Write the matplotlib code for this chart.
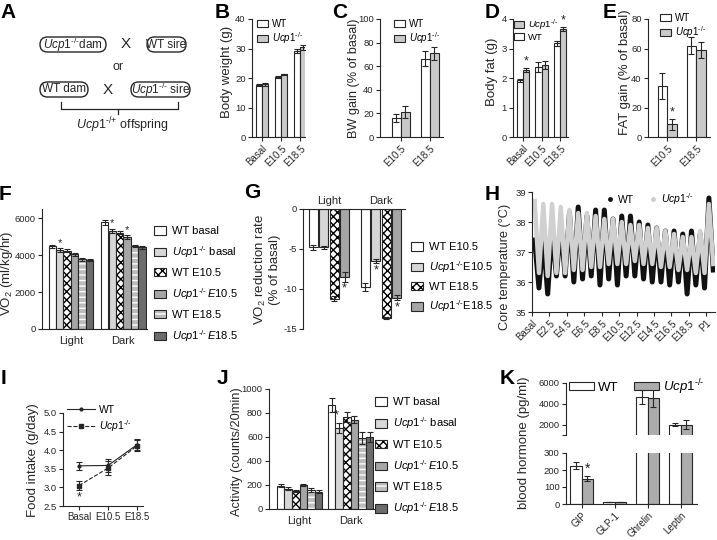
import numpy as np
import matplotlib
matplotlib.use("Agg")
import matplotlib.pyplot as plt
from matplotlib.patches import Patch, FancyBboxPatch
from matplotlib.lines import Line2D

plt.rcParams["font.family"] = ["Liberation Sans", "DejaVu Sans"]
plt.rcParams["mathtext.fontset"] = "custom"
plt.rcParams["mathtext.rm"] = "Liberation Sans"
plt.rcParams["mathtext.it"] = "Liberation Sans:italic"
plt.rcParams["axes.unicode_minus"] = False
plt.rcParams["hatch.linewidth"] = 1.0

W, H = 717, 540
INK = "#262626"
KO = r"$\mathit{Ucp1}^{\text{-/-}}$"

# ---- B: body weight
bw_groups = ["Basal", "E10.5", "E18.5"]
bw_wt = [17.6, 20.4, 29.2]
bw_wt_err = [0.3, 0.3, 0.8]
bw_ko = [17.8, 21.2, 30.4]
bw_ko_err = [0.4, 0.3, 0.8]

# ---- C: BW gain
gain_groups = ["E10.5", "E18.5"]
bwg_wt = [16.0, 66.5]
bwg_wt_err = [3.5, 6.0]
bwg_ko = [21.0, 71.0]
bwg_ko_err = [5.0, 5.5]

# ---- D: body fat
fat_wt = [1.93, 2.38, 3.17]
fat_wt_err = [0.05, 0.16, 0.08]
fat_ko = [2.28, 2.44, 3.65]
fat_ko_err = [0.07, 0.14, 0.07]

# ---- E: fat gain
fatg_wt = [34.5, 62.0]
fatg_wt_err = [9.0, 5.5]
fatg_ko = [8.5, 59.0]
fatg_ko_err = [3.5, 5.5]

# ---- F: VO2 (light, dark) for six groups
phase = ["Light", "Dark"]
six_labels = ["WT basal", KO + " basal", "WT E10.5",
              KO + r"$\,\mathit{E10.5}$", "WT E18.5", KO + r"$\,\mathit{E18.5}$"]
vo2 = [[4480, 5780], [4280, 5330], [4250, 5220], [4060, 4980], [3780, 4500], [3720, 4420]]
vo2_err = [[80, 150], [90, 110], [80, 100], [80, 90], [70, 70], [60, 60]]

# ---- G: VO2 reduction
four_labels = ["WT E10.5", KO + "E10.5", "WT E18.5", KO + "E18.5"]
vo2_red = [[-4.8, -9.8], [-4.8, -6.5], [-11.2, -13.6], [-8.5, -11.1]]
vo2_red_err = [[0.3, 0.5], [0.2, 0.3], [0.3, 0.1], [0.6, 0.3]]

# ---- H: core temperature, daily peak / trough per genotype
h_ticks = ["Basal", "E2.5", "E4.5", "E6.5", "E8.5", "E10.5", "E12.5",
           "E14.5", "E16.5", "E18.5", "P1"]
wt_high = [37.4, 37.5, 37.8, 37.9, 38.3, 38.5, 38.2, 38.4, 38.4, 38.1, 38.2,
           38.2, 38.0, 37.9, 37.8, 37.7, 37.7, 37.6, 37.7, 37.6, 38.8]
wt_low = [35.8, 35.6, 36.2, 36.2, 36.0, 36.1, 36.2, 35.9, 36.1, 35.9, 36.2,
          36.2, 36.1, 36.0, 36.0, 35.9, 36.0, 35.6, 35.9, 35.8, 36.4]
ko_high = [38.7, 38.6, 38.6, 38.5, 38.4, 38.3, 38.3, 38.2, 38.1, 38.1, 38.0,
           37.9, 37.9, 37.8, 37.8, 37.7, 37.6, 37.5, 37.5, 37.7, 38.6]
ko_low = [36.3, 36.2, 36.3, 36.3, 36.4, 36.4, 36.5, 36.5, 36.6, 36.6, 36.6,
          36.7, 36.6, 36.6, 36.5, 36.5, 36.4, 36.4, 36.3, 36.3, 36.6]

# ---- I: food intake
food_wt = [3.58, 3.59, 4.15]
food_wt_err = [0.10, 0.18, 0.14]
food_ko = [3.05, 3.52, 4.12]
food_ko_err = [0.12, 0.18, 0.15]

# ---- J: activity
activity = [[195, 865], [170, 675], [150, 765], [200, 745], [160, 590], [145, 600]]
activity_err = [[12, 60], [15, 45], [10, 40], [10, 30], [15, 50], [12, 40]]

# ---- K: blood hormones
hormones = ["GIP", "GLP-1", "Ghrelin", "Leptin"]
horm_wt = [225, 12, 4650, 1980]
horm_wt_err = [20, 2, 700, 150]
horm_ko = [150, 12, 4600, 1980]
horm_ko_err = [12, 2, 900, 450]

SIX_STYLE = [
    dict(fc="white", hatch=None, hc=None),
    dict(fc="#d6d6d6", hatch=None, hc=None),
    dict(fc="white", hatch="xxxx", hc="black"),
    dict(fc="#a6a6a6", hatch=None, hc=None),
    dict(fc="#bcbcbc", hatch="---", hc="white"),
    dict(fc="#6c6c6c", hatch=None, hc=None),
]
ERR = dict(ecolor=INK, elinewidth=0.8, capsize=2, capthick=0.8)


def px_axes(fig, left, top, right, bottom):
    return fig.add_axes([left / W, 1 - bottom / H, (right - left) / W, (bottom - top) / H])


def fpt(x, y):
    return (x / W, 1 - y / H)


def ylab(fig, x, y, text, size=9.5, **kw):
    fig.text(*fpt(x, y), text, rotation=90, ha="center", va="center",
             fontsize=size, color=INK, **kw)


def style(ax, size=6.8):
    for s in ("top", "right"):
        ax.spines[s].set_visible(False)
    for s in ("left", "bottom", "top"):
        ax.spines[s].set_linewidth(0.8)
        ax.spines[s].set_color(INK)
    ax.tick_params(length=3, width=0.8, labelsize=size, colors=INK, pad=1.5)


def rotate(ax, size=7):
    for lab in ax.get_xticklabels():
        lab.set_rotation(45)
        lab.set_ha("right")
        lab.set_rotation_mode("anchor")
        lab.set_fontsize(size)


def styled_bar(ax, x, v, w, st, err):
    if st["hatch"]:
        ax.bar(x, v, w, color=st["fc"], edgecolor=st["hc"], hatch=st["hatch"], lw=0)
        ax.bar(x, v, w, fill=False, edgecolor=INK, lw=0.8, yerr=err, error_kw=ERR)
    else:
        ax.bar(x, v, w, color=st["fc"], edgecolor=INK, lw=0.8, yerr=err, error_kw=ERR)


def style_handle(st):
    if st["hatch"]:
        return (Patch(facecolor=st["fc"], edgecolor=st["hc"], hatch=st["hatch"], lw=0),
                Patch(fill=False, edgecolor=INK, lw=0.8))
    return Patch(facecolor=st["fc"], edgecolor=INK, lw=0.8)


def pair(ax, n, wt, wt_err, ko, ko_err, width, ko_color="#c9c9c9"):
    x = np.arange(n)
    ax.bar(x - width / 2, wt, width, color="white", edgecolor=INK, lw=0.8,
           yerr=wt_err, error_kw=ERR)
    ax.bar(x + width / 2, ko, width, color=ko_color, edgecolor=INK, lw=0.8,
           yerr=ko_err, error_kw=ERR)
    return x


def pair_legend(ax, anchor, order=("wt", "ko"), size=7, ko_color="#c9c9c9"):
    hs = {"wt": (Patch(facecolor="white", edgecolor=INK, lw=0.8), "WT"),
          "ko": (Patch(facecolor=ko_color, edgecolor=INK, lw=0.8), KO)}
    ax.legend([hs[k][0] for k in order], [hs[k][1] for k in order], loc="upper left",
              bbox_to_anchor=fpt(*anchor), bbox_transform=ax.figure.transFigure,
              frameon=False, fontsize=size, handlelength=1.1, handleheight=0.75,
              handletextpad=0.4, labelspacing=0.1, borderpad=0, borderaxespad=0)


def star(ax, x, y, va="bottom", size=9):
    ax.text(x, y, "*", ha="center", va=va, fontsize=size, color=INK)


fig = plt.figure(figsize=(W / 100, H / 100), dpi=100)

# ---------------- A: breeding scheme
axa = fig.add_axes([0, 1 - 140 / H, 205 / W, 140 / H])
axa.set_xlim(0, 205)
axa.set_ylim(140, 0)
axa.axis("off")
for (x0, x1, yc, txt) in [(33, 113, 44.5, KO + "dam"), (140, 193, 44.5, "WT sire"),
                          (33, 95, 89.5, "WT dam"), (124, 197, 89.5, KO + " sire")]:
    axa.add_patch(FancyBboxPatch((x0 + 7, yc - 7.5), x1 - x0 - 14, 15,
                                 boxstyle="round,pad=0,rounding_size=7.5",
                                 fc="white", ec=INK, lw=1.0, mutation_aspect=1))
    axa.text((x0 + x1) / 2, yc, txt, ha="center", va="center", fontsize=8.5, color=INK)
axa.text(126, 44.5, "X", ha="center", va="center", fontsize=11, color=INK)
axa.text(108, 89.5, "X", ha="center", va="center", fontsize=11, color=INK)
axa.text(118, 67, "or", ha="center", va="center", fontsize=9, color=INK)
axa.plot([61, 61, 178, 178], [102, 108.5, 108.5, 102], color=INK, lw=0.9)
axa.plot([118, 118], [108.5, 114], color=INK, lw=0.9)
axa.text(122, 125, r"$\mathit{Ucp1}^{\text{-/+}}$ offspring", ha="center", va="center",
         fontsize=9, color=INK)

# ---------------- B
axb = px_axes(fig, 252, 19, 305, 137)
style(axb)
x = pair(axb, 3, bw_wt, bw_wt_err, bw_ko, bw_ko_err, 0.32)
axb.set_xlim(-0.53, 2.25)
axb.set_ylim(0, 40)
axb.set_yticks([0, 10, 20, 30, 40])
axb.set_xticks(x, bw_groups)
rotate(axb)
ylab(fig, 227, 72, "Body weight (g)")
pair_legend(axb, (257, 19))

# ---------------- C
axc = px_axes(fig, 380, 19, 443, 137)
style(axc)
x = pair(axc, 2, bwg_wt, bwg_wt_err, bwg_ko, bwg_ko_err, 0.31)
axc.set_xlim(-0.72, 1.45)
axc.set_ylim(0, 100)
axc.set_yticks([0, 20, 40, 60, 80, 100])
axc.set_xticks(x, gain_groups)
rotate(axc)
ylab(fig, 354, 78, "BW gain (% of basal)", size=9.2)
pair_legend(axc, (394, 19))

# ---------------- D
axd = px_axes(fig, 513, 19, 568, 137)
style(axd)
x = pair(axd, 3, fat_wt, fat_wt_err, fat_ko, fat_ko_err, 0.33)
axd.set_xlim(-0.54, 2.43)
axd.set_ylim(0, 4)
axd.set_yticks([0, 1, 2, 3, 4])
axd.set_xticks(x, bw_groups)
rotate(axd)
ylab(fig, 492, 72, "Body fat (g)")
pair_legend(axd, (514, 17), order=("ko", "wt"), size=6.8)
for i in (0, 2):
    star(axd, x[i] + 0.165, fat_ko[i] + fat_ko_err[i] + 0.02)

# ---------------- E
axe = px_axes(fig, 648, 19, 710, 137)
style(axe)
x = pair(axe, 2, fatg_wt, fatg_wt_err, fatg_ko, fatg_ko_err, 0.34)
axe.set_xlim(-0.67, 1.47)
axe.set_ylim(0, 80)
axe.set_yticks([0, 20, 40, 60, 80])
axe.set_xticks(x, gain_groups)
rotate(axe)
ylab(fig, 625, 72, "FAT gain (% of basal)")
pair_legend(axe, (660, 13))
star(axe, x[0] + 0.17, fatg_ko[0] + fatg_ko_err[0] + 0.5)


def six_panel(ax, values, errs, width, step):
    xc = np.arange(len(phase))
    for k in range(6):
        v = [values[k][p] for p in range(len(phase))]
        e = [errs[k][p] for p in range(len(phase))]
        styled_bar(ax, xc + (k - 2.5) * step, v, width, SIX_STYLE[k], e)
    return xc


# ---------------- F
axf = px_axes(fig, 42, 209, 147, 329)
style(axf)
xc = six_panel(axf, vo2, vo2_err, 0.14, 0.142)
axf.set_xlim(-0.55, 1.45)
axf.set_ylim(0, 6500)
axf.set_yticks([0, 2000, 4000, 6000])
axf.set_xticks(xc, phase)
axf.tick_params(axis="x", length=0, labelsize=8, pad=5)
ylab(fig, 7, 273, "VO$_2$ (ml/kg/hr)")
for k, p in [(1, 0), (1, 1), (3, 1)]:
    star(axf, xc[p] + (k - 2.5) * 0.142, vo2[k][p] + vo2_err[k][p] + 20, size=8)
fig.legend([style_handle(s) for s in SIX_STYLE], six_labels, loc="upper left",
           bbox_to_anchor=fpt(154, 226), frameon=False, fontsize=8,
           handlelength=1.1, handleheight=0.8, handletextpad=0.5,
           labelspacing=0.72, borderpad=0, borderaxespad=0)

# ---------------- G
axg = px_axes(fig, 303, 209, 405, 329)
style(axg)
axg.spines["bottom"].set_visible(False)
axg.spines["top"].set_visible(True)
xg = np.arange(len(phase))
for k in range(4):
    styled_bar(axg, xg + (k - 1.5) * 0.2, vo2_red[k], 0.17, SIX_STYLE[k], vo2_red_err[k])
axg.set_xlim(-0.5, 1.46)
axg.set_ylim(-15, 0)
axg.set_yticks([-15, -10, -5, 0])
axg.xaxis.set_ticks_position("top")
axg.set_xticks(xg, phase)
axg.tick_params(axis="x", length=0, labelsize=8, pad=2)
ylab(fig, 267, 270, "VO$_2$ reduction rate\n(% of basal)", linespacing=1.05)
for k, p in [(3, 0), (1, 1), (3, 1)]:
    star(axg, xg[p] + (k - 1.5) * 0.2, vo2_red[k][p] - vo2_red_err[k][p] - 0.1,
         va="top", size=9)
fig.legend([style_handle(s) for s in SIX_STYLE[:4]], four_labels, loc="upper left",
           bbox_to_anchor=fpt(411, 242), frameon=False, fontsize=8,
           handlelength=1.1, handleheight=0.8, handletextpad=0.5,
           labelspacing=0.62, borderpad=0, borderaxespad=0)

# ---------------- H
axh = px_axes(fig, 532, 192, 715, 312)
style(axh)
n_days = len(wt_high)
t_day, y_wt, y_ko = [], [], []
for d in range(n_days):
    t_day += [d + 0.8, d + 1.3]
    y_wt += [wt_high[d], wt_low[d]]
    y_ko += [ko_high[d], ko_low[d]]
axh.plot(t_day, y_wt, color="#111111", lw=3.6)
axh.plot(t_day, y_ko, color="#d0d0d0", lw=3.2)
axh.set_xlim(0.5, 21.5)
axh.set_ylim(35, 39)
axh.set_yticks([35, 36, 37, 38, 39])
axh.set_xticks(np.arange(len(h_ticks)) * 2 + 0.5, h_ticks)
rotate(axh)
ylab(fig, 505, 267, "Core temperature (°C)", size=9.2)
axh.legend([Line2D([], [], ls="", marker="o", ms=2.5, color="#111111"),
            Line2D([], [], ls="", marker="o", ms=2.5, color="#cfcfcf")],
           ["WT", KO], loc="upper left", bbox_to_anchor=fpt(606, 191),
           bbox_transform=fig.transFigure, ncol=2, frameon=False, fontsize=7.5,
           handlelength=0.8, handletextpad=0.3, columnspacing=1.5,
           borderpad=0, borderaxespad=0)

# ---------------- I
axi = px_axes(fig, 63, 413, 143, 506)
style(axi)
xi = np.arange(len(bw_groups))
axi.errorbar(xi, food_wt, yerr=food_wt_err, color=INK, lw=0.8, marker="o", ms=2,
             capsize=2, capthick=0.8, elinewidth=0.8)
axi.errorbar(xi, food_ko, yerr=food_ko_err, color=INK, lw=0.8, ls="--", marker="s",
             ms=2.5, capsize=2, capthick=0.8, elinewidth=0.8)
axi.set_xlim(-0.55, 2.2)
axi.set_ylim(2.5, 5.0)
axi.set_yticks([2.5, 3.0, 3.5, 4.0, 4.5, 5.0])
axi.set_yticklabels([f"{v:.1f}" for v in [2.5, 3.0, 3.5, 4.0, 4.5, 5.0]])
axi.set_xticks(xi, bw_groups)
axi.tick_params(axis="x", labelsize=7)
ylab(fig, 33, 460, "Food intake (g/day)")
star(axi, xi[0], food_ko[0] - food_ko_err[0] - 0.04, va="top", size=9)
axi.legend([Line2D([], [], color=INK, lw=0.8, marker="o", ms=2),
            Line2D([], [], color=INK, lw=0.8, ls="--", marker="s", ms=2.5)],
           ["WT", KO], loc="upper left", bbox_to_anchor=fpt(67, 405),
           bbox_transform=fig.transFigure, frameon=False, fontsize=7.5,
           handlelength=2.7, handletextpad=0.4, labelspacing=0.3,
           borderpad=0, borderaxespad=0)

# ---------------- J
axj = px_axes(fig, 269, 389, 374, 509)
style(axj)
xc = six_panel(axj, activity, activity_err, 0.147, 0.149)
axj.set_xlim(-0.6, 1.46)
axj.set_ylim(0, 1000)
axj.set_yticks([0, 200, 400, 600, 800, 1000])
axj.set_xticks(xc, phase)
axj.tick_params(axis="x", length=0, labelsize=8, pad=5)
ylab(fig, 237, 452, "Activity (counts/20min)", size=9.2)
star(axj, xc[1] + (1 - 2.5) * 0.149 - 0.05, activity[1][1] + activity_err[1][1] + 10, size=9)
fig.legend([style_handle(s) for s in SIX_STYLE], six_labels, loc="upper left",
           bbox_to_anchor=fpt(375, 397), frameon=False, fontsize=8,
           handlelength=1.1, handleheight=0.8, handletextpad=0.5,
           labelspacing=0.75, borderpad=0, borderaxespad=0)

# ---------------- K (broken axis)
xk = np.arange(len(hormones))
K_GRAY = "#acacac"
axk_top = px_axes(fig, 566, 383, 697, 435)
axk_bot = px_axes(fig, 566, 453, 697, 504)
for ax in (axk_top, axk_bot):
    style(ax)
    pair(ax, len(hormones), horm_wt, horm_wt_err, horm_ko, horm_ko_err, 0.35, ko_color=K_GRAY)
    ax.set_xlim(-0.47, 3.5)
axk_top.set_ylim(1000, 6000)
axk_top.set_yticks([1000, 2000, 4000, 6000])
axk_top.set_yticklabels(["", "2000", "4000", "6000"])
axk_top.spines["bottom"].set_visible(False)
axk_top.set_xticks([])
axk_bot.set_ylim(0, 300)
axk_bot.set_yticks([0, 100, 200, 300])
axk_bot.set_xticks(xk, hormones)
rotate(axk_bot)
star(axk_bot, xk[0] + 0.175, horm_ko[0] + horm_ko_err[0] + 2, size=10)
ylab(fig, 524, 443, "blood hormone (pg/ml)")
axk_top.legend([Patch(facecolor="white", edgecolor=INK, lw=0.8),
                Patch(facecolor=K_GRAY, edgecolor=INK, lw=0.8)], ["WT", KO],
               loc="upper left", bbox_to_anchor=fpt(569, 377),
               bbox_transform=fig.transFigure, ncol=2, frameon=False, fontsize=9.5,
               handlelength=1.9, handleheight=0.6, handletextpad=0.3,
               columnspacing=1.2, borderpad=0, borderaxespad=0)

# ---------------- panel letters
for letter, (lx, ly) in {"A": (8, 12), "B": (222, 12), "C": (340, 12), "D": (492, 12),
                         "E": (610, 12), "F": (5, 194), "G": (252, 192), "H": (492, 194),
                         "I": (4, 378), "J": (222, 378), "K": (507, 378)}.items():
    fig.text(*fpt(lx, ly), letter, ha="center", va="center", fontsize=15,
             fontweight="bold", color="black")

fig.savefig("out.png", dpi=100)
